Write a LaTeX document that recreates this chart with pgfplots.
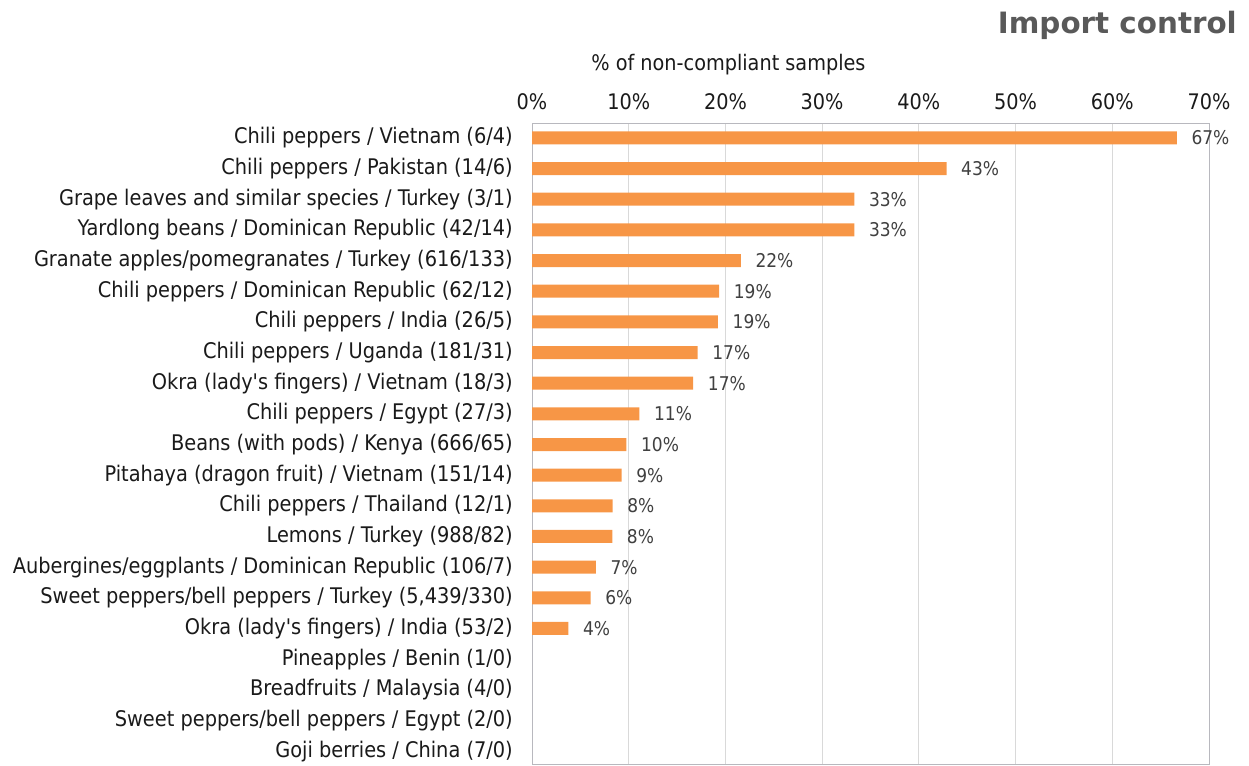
\documentclass[border=0pt]{standalone}
\usepackage{pgfplots}
\pgfplotsset{compat=1.18}
\usepackage{fontspec}
\setmainfont{DejaVu Sans Condensed}
\newfontfamily\titlefont{DejaVu Sans}
\pgfkeys{/pgf/number format/assume math mode=true}
\definecolor{barorange}{HTML}{F79646}
\definecolor{gridgray}{HTML}{D9D9D9}
\definecolor{framegray}{HTML}{B8B8BE}
\definecolor{titlegray}{HTML}{595959}
\definecolor{valgray}{HTML}{404040}
\definecolor{labblack}{HTML}{1A1A1A}
\begin{document}
\begin{tikzpicture}[x=1bp,y=1bp]
\useasboundingbox (0,0) rectangle (1249,766);
\begin{axis}[
  at={(532bp,2bp)}, anchor=south west,
  scale only axis, width=677bp, height=640.5bp,
  xmin=0, xmax=70, ymin=-0.47, ymax=20.42, y dir=reverse,
  axis line style={draw=framegray, line width=1bp},
  xtick={0,10,...,70}, xtick pos=upper, xticklabel pos=upper,
  xticklabel={\pgfmathprintnumber[assume math mode=true]{\tick}\%},
  xmajorgrids, grid style={draw=gridgray, line width=1bp},
  major tick length=0pt,
  ytick={0,...,20},
  yticklabels={
    {Chili peppers / Vietnam (6/4)},
    {Chili peppers / Pakistan (14/6)},
    {Grape leaves and similar species / Turkey (3/1)},
    {Yardlong beans / Dominican Republic (42/14)},
    {Granate apples/pomegranates / Turkey (616/133)},
    {Chili peppers / Dominican Republic (62/12)},
    {Chili peppers / India (26/5)},
    {Chili peppers / Uganda (181/31)},
    {Okra (lady\textquotesingle s fingers) / Vietnam (18/3)},
    {Chili peppers / Egypt (27/3)},
    {Beans (with pods) / Kenya (666/65)},
    {Pitahaya (dragon fruit) / Vietnam (151/14)},
    {Chili peppers / Thailand (12/1)},
    {Lemons / Turkey (988/82)},
    {Aubergines/eggplants / Dominican Republic (106/7)},
    {Sweet peppers/bell peppers / Turkey (5,439/330)},
    {Okra (lady\textquotesingle s fingers) / India (53/2)},
    {Pineapples / Benin (1/0)},
    {Breadfruits / Malaysia (4/0)},
    {Sweet peppers/bell peppers / Egypt (2/0)},
    {Goji berries / China (7/0)}},
  yticklabel style={font=\fontsize{21.6}{24}\selectfont, text=labblack, anchor=east, inner sep=0pt, xshift=-19bp},
  xticklabel style={font=\fontsize{21.5}{24}\selectfont, text=labblack, anchor=base, inner sep=0pt, yshift=13.5bp},
  ytick style={draw=none}, xtick style={draw=none},
  clip=false,
]
\addplot[xbar, bar width=13bp, fill=barorange, draw=none,
  nodes near coords={\pgfmathprintnumber[fixed,precision=0,assume math mode=true]{\pgfplotspointmeta}\%},
  point meta=x,
  every node near coord/.append style={font=\fontsize{19}{22}\selectfont, text=valgray, anchor=west, inner sep=0pt, xshift=14.5bp}]
coordinates {
(66.67,0) (42.86,1) (33.33,2) (33.33,3) (21.59,4) (19.35,5) (19.23,6)
(17.13,7) (16.67,8) (11.11,9) (9.76,10) (9.27,11) (8.33,12) (8.30,13)
(6.60,14) (6.07,15) (3.77,16)
};
\end{axis}
\node[font=\fontsize{21.5}{24}\selectfont, text=labblack, inner sep=0pt, anchor=base] at (728.5,695.5) {\% of non-compliant samples};
\node[font=\titlefont\fontsize{29.5}{34}\selectfont\bfseries, text=titlegray, anchor=base east, inner sep=0pt] at (1237,732.7) {Import control};
\end{tikzpicture}
\end{document}
